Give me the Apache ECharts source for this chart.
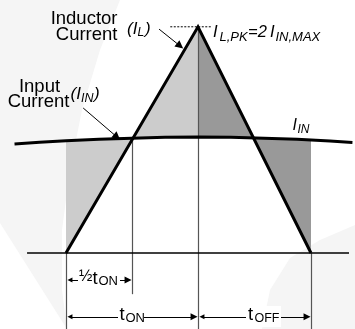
<!DOCTYPE html>
<html>
<head>
<meta charset="utf-8">
<script src="https://cdn.jsdelivr.net/npm/echarts@6/dist/echarts.min.js"></script>
<style>
  html, body { margin: 0; padding: 0; background: #fff; }
  #chart { width: 355px; height: 329px; }
</style>
</head>
<body>
<div id="chart"></div>
<script>
// time is in units of tON, current in units of I_IN,MAX
const inductorTime = [0, 1, 1.856];
const inductorCurrent = [0, 1.95, 0];

const inputTime = [-0.39, -0.2, 0, 0.25, 0.5, 0.75, 1, 1.25, 1.5, 1.75, 2, 2.17];
const inputCurrent = [0.94, 0.955, 0.968, 0.98, 0.99, 0.997, 1, 0.997, 0.99, 0.98, 0.965, 0.952];

const baselineTime = [-0.295, 2.144];

// vertical guides: time, top, bottom
const guideTime = [0, 0.5, 1, 1.856];
const guideTop = [0, 0.99, 1.95, 0];
const guideBottom = [-0.66, -0.355, -0.66, -0.66];

const peakDotTime = [0.79, 1.1];

// callout arrows [from, to]
const calloutInductor = [[0.705, 1.93], [0.864, 1.785]];
const calloutInput = [[0.13, 1.25], [0.386, 1.0]];

// dimension arrows
const halfOnLevel = -0.232;
const periodLevel = -0.55;

const FONT = '"Liberation Sans", Arial, Helvetica, sans-serif';
const LIGHT = '#cccccc';
const DARK = '#999999';

const tOn = inductorTime[1];
const tEnd = inductorTime[2];
const peak = inductorCurrent[1];

function iinAt(t) {
  for (let i = 0; i < inputTime.length - 1; i++) {
    if (t >= inputTime[i] && t <= inputTime[i + 1]) {
      const f = (t - inputTime[i]) / (inputTime[i + 1] - inputTime[i]);
      return inputCurrent[i] + f * (inputCurrent[i + 1] - inputCurrent[i]);
    }
  }
  return inputCurrent[inputCurrent.length - 1];
}

function solve(fn, a, b) {
  for (let k = 0; k < 60; k++) {
    const m = (a + b) / 2;
    if (fn(a) * fn(m) <= 0) b = m; else a = m;
  }
  return (a + b) / 2;
}

// where the ramp edges cross the input current
const crossL = solve((t) => peak * t / tOn - iinAt(t), 0, tOn);
const crossR = solve((t) => peak * (tEnd - t) / (tEnd - tOn) - iinAt(t), tOn, tEnd);

function iinBetween(a, b) {
  const pts = [[a, iinAt(a)]];
  inputTime.forEach((t, i) => { if (t > a && t < b) pts.push([t, inputCurrent[i]]); });
  pts.push([b, iinAt(b)]);
  return pts;
}

const shades = [
  { fill: LIGHT, pts: [[0, 0], ...iinBetween(0, crossL)] },
  { fill: LIGHT, pts: [[tOn, peak], ...iinBetween(crossL, tOn).reverse()] },
  { fill: DARK, pts: [[tOn, peak], ...iinBetween(tOn, crossR).reverse()] },
  { fill: DARK, pts: [...iinBetween(crossR, tEnd), [tEnd, 0]] }
];

const chart = echarts.init(document.getElementById('chart'), null, { renderer: 'canvas' });

function txt(x, y, text, size, italic, align) {
  return {
    type: 'text', x: x, y: y, z: 100,
    style: {
      text: text,
      font: (italic ? 'italic ' : '') + size + 'px ' + FONT,
      fill: '#000',
      align: align || 'left',
      verticalAlign: 'middle'
    }
  };
}
function whiteBox(x, y, w, h) {
  return { type: 'rect', z: 90, shape: { x: x, y: y, width: w, height: h }, style: { fill: '#fff' } };
}

const option = {
  animation: false,
  backgroundColor: '#fff',
  grid: { left: 0, right: 0, top: 0, bottom: 0 },
  xAxis: { type: 'value', min: -0.5, max: 2.1894, show: false },
  yAxis: { type: 'value', min: -0.6552, max: 2.181, show: false },
  graphic: [
    { type: 'polygon', z: -10, shape: { points: [[0, 0], [120, 0], [100, 50], [82, 110], [70, 170], [62, 230], [62, 290], [67, 329], [0, 223]] }, style: { fill: '#f5f5f5' } },
    { type: 'polygon', z: -10, shape: { points: [[355, 225], [320, 240], [290, 258], [270, 290], [262, 329], [355, 329]] }, style: { fill: '#f5f5f5' } },
    txt(117.5, 18.5, 'Inductor', 18.5, false, 'right'),
    txt(117.5, 34.5, 'Current', 18.5, false, 'right'),
    txt(127, 29.5, '(I', 17, true),
    txt(137.5, 33, 'L', 12, true),
    txt(145, 29.5, ')', 17, true),
    txt(213, 32, 'I', 16.5, true),
    txt(219.5, 37, 'L,PK', 13, true),
    txt(248, 32, '=2', 16.5, true),
    txt(270, 32, 'I', 16.5, true),
    txt(275.5, 37, 'IN,MAX', 13, true),
    txt(39.5, 86.5, 'Input', 18.5, false, 'center'),
    txt(38.5, 102, 'Current', 18.5, false, 'center'),
    txt(70.5, 94, '(I', 17, true),
    txt(81, 98.5, 'IN', 12.5, true),
    txt(94, 94, ')', 17, true),
    txt(292.5, 125.5, 'I', 16, true),
    txt(297.5, 130, 'IN', 12, true),
    whiteBox(78, 269, 42, 21),
    txt(79, 277, '½', 16),
    txt(92.5, 278.5, 't', 18.5),
    txt(98.5, 281, 'ON', 13),
    whiteBox(118, 306, 26, 21),
    txt(119.5, 315, 't', 18.5),
    txt(125.5, 318.5, 'ON', 13),
    whiteBox(246, 306, 35, 21),
    txt(248, 315, 't', 18.5),
    txt(254.5, 318.5, 'OFF', 12.5)
  ],
  series: [
    {
      type: 'custom',
      z: 1,
      silent: true,
      data: shades.map((s, i) => [i]),
      renderItem: function (params, api) {
        const s = shades[params.dataIndex];
        return {
          type: 'polygon',
          shape: { points: s.pts.map((p) => api.coord(p)) },
          style: { fill: s.fill, stroke: null }
        };
      }
    },
    {
      type: 'lines',
      coordinateSystem: 'cartesian2d',
      z: 3,
      symbol: 'none',
      lineStyle: { color: '#555', width: 1.2, opacity: 1 },
      data: guideTime.map((t, i) => ({ coords: [[t, guideTop[i]], [t, guideBottom[i]]] }))
    },
    {
      type: 'line',
      z: 4,
      symbol: 'none',
      data: baselineTime.map((t) => [t, 0]),
      lineStyle: { color: '#000', width: 1.5 }
    },
    {
      type: 'line',
      z: 5,
      symbol: 'none',
      data: peakDotTime.map((t) => [t, peak]),
      lineStyle: { color: '#000', width: 1, type: [2, 1.5] }
    },
    {
      type: 'line',
      z: 6,
      symbol: 'none',
      data: inputTime.map((t, i) => [t, inputCurrent[i]]),
      lineStyle: { color: '#000', width: 3, cap: 'butt' }
    },
    {
      type: 'line',
      z: 7,
      symbol: 'none',
      data: inductorTime.map((t, i) => [t, inductorCurrent[i]]),
      lineStyle: { color: '#000', width: 3, join: 'miter', miterLimit: 10 }
    },
    {
      type: 'lines',
      coordinateSystem: 'cartesian2d',
      z: 8,
      symbol: ['none', 'triangle'],
      symbolSize: [5, 8],
      lineStyle: { color: '#000', width: 1, opacity: 1 },
      data: [{ coords: calloutInductor }, { coords: calloutInput }]
    },
    {
      type: 'lines',
      coordinateSystem: 'cartesian2d',
      z: 8,
      symbol: ['triangle', 'triangle'],
      symbolSize: [5, 7],
      lineStyle: { color: '#000', width: 1, opacity: 1 },
      data: [
        { coords: [[0.03, halfOnLevel], [0.47, halfOnLevel]] },
        { coords: [[0.03, periodLevel], [tOn - 0.03, periodLevel]] },
        { coords: [[tOn + 0.03, periodLevel], [tEnd - 0.03, periodLevel]] }
      ]
    }
  ]
};

chart.setOption(option);
</script>
</body>
</html>
